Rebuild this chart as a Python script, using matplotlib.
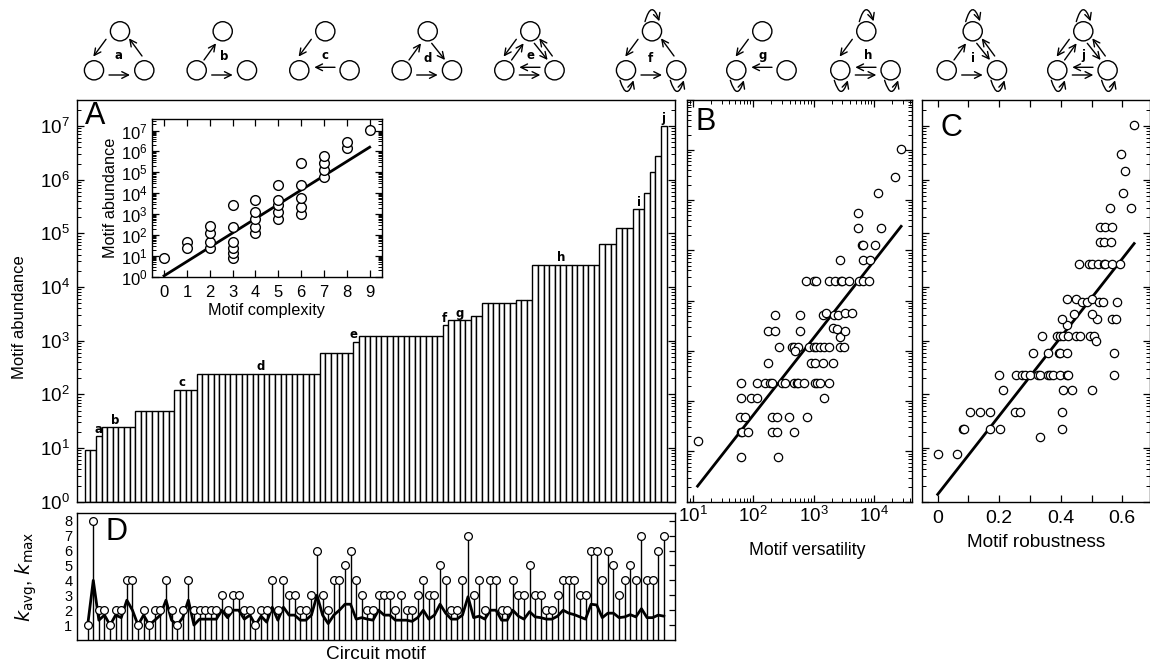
import numpy as np
from matplotlib import pyplot as plt
from matplotlib.patches import Circle, FancyArrowPatch
from matplotlib.ticker import FixedLocator, LogLocator, NullFormatter

plt.rcParams["font.family"] = ["Liberation Sans", "DejaVu Sans"]
plt.rcParams["mathtext.default"] = "regular"
plt.rcParams["axes.linewidth"] = 1.0

W, H = 1150, 665

# -- panel A: sorted abundance, as runs of equal height --
abundance_levels = [8, 16, 24, 48, 120, 240, 600, 960, 1200, 1920, 2400, 2880, 5040, 5760,
                    25920, 63000, 126000, 280000, 560000, 1.4e6, 2.8e6, 1e7]
motif_counts = [2, 1, 6, 7, 4, 22, 6, 1, 15, 1, 4, 2, 6, 3, 12, 3, 3, 2, 1, 1, 1, 1]
marked_names = list("abcdefghij")
marked_motifs = [2.5, 5.4, 17.3, 31.4, 48.0, 64.3, 67.0, 85.2, 99.0, 103.4]
marked_levels = [16, 24, 120, 240, 960, 1920, 2400, 25920, 280000, 1e7]

# -- inset: complexity vs abundance --
complexity = [0, 1, 1, 2, 2, 2, 2, 3, 3, 3, 3, 3, 3, 4, 4, 4, 4, 4,
              5, 5, 5, 5, 5, 6, 6, 6, 6, 6, 7, 7, 7, 7, 8, 8, 9]
complexity_abundance = [8, 48, 24, 24, 48, 120, 260, 8, 14, 24, 48, 250, 2700,
                        120, 250, 580, 1200, 4700, 580, 1200, 2700, 4700, 26000,
                        1000, 2300, 5600, 26000, 290000, 63000, 126000, 280000, 600000,
                        1.4e6, 2.8e6, 1.1e7]
complexity_fit_x = [0, 9]
complexity_fit_y = [1.1, 1.6e6]

# -- panel B: log10 versatility, log10 abundance --
b_log_versatility = [1.08, 1.80, 2.41, 1.80, 1.82, 1.91, 2.31, 2.40, 2.67,
                     1.79, 1.86, 2.31, 2.40, 2.60, 2.89,
                     1.80, 1.96, 2.07, 3.17,
                     1.80, 2.07, 2.20, 2.28, 2.31, 2.47, 2.53, 2.67, 2.72, 2.75, 2.85,
                     3.02, 3.05, 3.11, 3.26,
                     2.25, 2.95, 3.02, 3.15, 3.32,
                     2.43, 2.64, 2.68, 2.75, 2.69, 2.92, 3.01, 3.04, 3.11, 3.18, 3.26, 3.43, 3.51,
                     3.43, 2.25, 2.36, 2.77, 3.33, 3.39, 3.52,
                     2.36, 2.77, 3.15, 3.21, 3.34, 3.40, 3.52, 3.63,
                     2.87, 3.01, 3.04, 3.26, 3.36, 3.45, 3.47, 3.59, 3.75, 3.82, 3.91,
                     3.44, 3.82, 3.93, 3.80, 3.82, 4.01, 3.74, 4.11, 3.74, 4.07, 4.35, 4.45]
b_log_abundance = [1.20, 0.89, 0.89, 1.38, 1.38, 1.38, 1.38, 1.38, 1.38,
                   1.68, 1.68, 1.68, 1.68, 1.68, 1.68,
                   2.06, 2.06, 2.06, 2.06,
                   2.36, 2.36, 2.36, 2.36, 2.36, 2.36, 2.36, 2.36, 2.36, 2.36, 2.36,
                   2.36, 2.36, 2.36, 2.36,
                   2.77, 2.77, 2.77, 2.77, 2.77,
                   3.08, 3.08, 3.08, 3.08, 3.00, 3.08, 3.08, 3.08, 3.08, 3.08, 3.08, 3.08, 3.08,
                   3.28, 3.40, 3.40, 3.40, 3.46, 3.44, 3.40,
                   3.72, 3.72, 3.72, 3.76, 3.72, 3.72, 3.76, 3.76,
                   4.40, 4.40, 4.40, 4.40, 4.40, 4.40, 4.40, 4.40, 4.40, 4.40, 4.40,
                   4.81, 4.81, 4.81, 5.11, 5.11, 5.11, 5.44, 5.44, 5.75, 6.15, 6.46, 7.01]
b_fit_x = [1.08, 4.45]
b_fit_y = [0.31, 5.48]

# -- panel C: robustness, log10 abundance --
c_robustness = [0, .062, .334, .083, .087, .171, .203, .403,
                .104, .137, .171, .252, .269, .403,
                .211, .406, .436, .502,
                .199, .253, .273, .284, .300, .327, .333, .359, .365, .376, .397, .419, .424, .573,
                .311, .357, .395, .399, .420, .573,
                .340, .389, .399, .406, .424, .449, .464, .495, .508, .514,
                .419, .403, .518, .567, .580, .444, .502,
                .419, .449, .470, .485, .502, .523, .536, .584,
                .460, .492, .500, .522, .539, .545, .565, .594,
                .529, .539, .564, .527, .545, .568, .561, .627, .602, .609, .597, .639]
c_log_abundance = [.89, .89, 1.20, 1.36, 1.36, 1.36, 1.36, 1.36,
                   1.67, 1.67, 1.67, 1.67, 1.67, 1.67,
                   2.08, 2.08, 2.08, 2.08,
                   2.36, 2.36, 2.36, 2.36, 2.36, 2.36, 2.36, 2.36, 2.36, 2.36, 2.36, 2.36, 2.36, 2.36,
                   2.77, 2.77, 2.77, 2.77, 2.77, 2.77,
                   3.08, 3.08, 3.08, 3.08, 3.08, 3.08, 3.08, 3.08, 3.08, 3.00,
                   3.30, 3.41, 3.41, 3.41, 3.41, 3.49, 3.49,
                   3.77, 3.77, 3.73, 3.73, 3.77, 3.73, 3.73, 3.73,
                   4.42, 4.42, 4.42, 4.42, 4.42, 4.42, 4.42, 4.42,
                   4.83, 4.83, 4.83, 5.11, 5.11, 5.11, 5.47, 5.47, 5.75, 6.16, 6.47, 7.01]
c_fit_x = [0, 0.6385]
c_fit_y = [0.137, 4.81]

# -- panel D: node degree per motif --
k_max = [1, 8, 2, 2, 1, 2, 2, 4, 4, 1, 2, 1, 2, 2, 4, 2, 1, 2, 4, 2, 2, 2, 2, 2, 3, 2,
         3, 3, 2, 2, 1, 2, 2, 4, 2, 4, 3, 3, 2, 2, 3, 6, 3, 2, 4, 4, 5, 6, 4, 3, 2, 2,
         3, 3, 3, 2, 3, 2, 2, 3, 4, 3, 3, 5, 4, 2, 2, 4, 7, 3, 4, 2, 4, 4, 2, 2, 4, 3,
         3, 5, 3, 3, 2, 2, 3, 4, 4, 4, 3, 3, 6, 6, 4, 6, 5, 3, 4, 5, 4, 7, 4, 4, 6, 7]
k_avg = [1, 4, 1.33, 1.67, 1, 1.67, 1.5, 2.67, 2, 1, 1.67, 1, 1.33, 1.67, 2.67, 1.33, 1, 1.5,
         2.67, 1, 1.4, 1.4, 1.4, 1.4, 2, 1.5, 2, 2, 1.4, 1.67, 1, 1.6, 1.2, 2.2, 1.33, 2.2,
         1.67, 1.67, 1.33, 1.33, 1.67, 3, 1.67, 1.1, 1.67, 2, 2.4, 2.4, 1.4, 1.5, 1.4, 1.33,
         2, 1.67, 1.67, 1.33, 1.33, 1.33, 1.25, 1.5, 2, 1.4, 1.67, 2.4, 1.8, 1.4, 1.4, 1.67,
         2.9, 1.5, 1.6, 1.4, 2, 2, 1.33, 1.33, 2, 1.6, 1.4, 1.9, 1.55, 1.5, 1.4, 1.4, 1.6,
         2, 1.8, 1.7, 1.55, 1.4, 2.4, 2.35, 1.5, 1.8, 1.8, 1.5, 1.55, 1.7, 1.55, 2.1, 1.5,
         1.5, 1.67, 1.6]

# -- motif sketches along the top --
sketch_names = list("abcdefghij")
sketch_edges = ["TL LR RT", "LT LR", "TL RL", "LT TR LR", "TL LT TR RT LR RL",
                "TL RT LR", "TL RL", "TL LR RL", "LT TR RT LR", "TL LT TR RT LR RL"]
sketch_loops = ["", "", "", "", "", "TLR", "L", "TLR", "TR", "TLR"]


def rect(left, top, right, bottom):
    return [left / W, 1 - bottom / H, (right - left) / W, (bottom - top) / H]


def log_ticks(ax, which="y"):
    axis = ax.yaxis if which == "y" else ax.xaxis
    axis.set_major_locator(LogLocator(base=10, numticks=12))
    axis.set_minor_locator(LogLocator(base=10, subs=np.arange(2, 10), numticks=12))
    axis.set_minor_formatter(NullFormatter())


def ticks_in(ax, **kw):
    ax.tick_params(which="major", direction="in", length=5, width=0.9, labelsize=13.5, **kw)
    ax.tick_params(which="minor", direction="in", length=3, width=0.7, **kw)


def draw_sketch(ax, x0, name, edges, loops, label_dx, label_dy):
    y0 = 31.3
    nodes = {"T": (x0, y0), "L": (x0 - 26, y0 + 39), "R": (x0 + 24.3, y0 + 39)}
    for xy in nodes.values():
        ax.add_patch(Circle(xy, 9.6, fc="white", ec="black", lw=1.0))
    # arrow ends relative to the top node, in px
    arrows = {"TL": (-14, 8, -26.7, 25.3), "LT": (-18.7, 28.7, -6.7, 12),
              "TR": (4, 12, 17.3, 28.7), "RT": (22, 24.7, 9, 7),
              "LR": (-11, 43.7, 10, 43.7), "RL": (9.7, 36, -11, 36)}
    for key in edges.split():
        sx, sy, ex, ey = arrows[key]
        ax.add_patch(FancyArrowPatch((x0 + sx, y0 + sy), (x0 + ex, y0 + ey),
                                     arrowstyle="->,head_length=0.6,head_width=0.3",
                                     mutation_scale=8, lw=1.0, color="black",
                                     shrinkA=0, shrinkB=0))
    for key in loops:
        nx, ny = nodes[key]
        if key == "T":
            start, end, rad = (nx - 7, ny - 9.7), (nx + 7.3, ny - 10), -1.6
        else:
            start, end, rad = (nx - 6, ny + 10), (nx + 7.5, ny + 10), 1.6
        ax.add_patch(FancyArrowPatch(start, end, connectionstyle=f"arc3,rad={rad}",
                                     arrowstyle="->,head_length=0.6,head_width=0.3",
                                     mutation_scale=8, lw=1.0, color="black",
                                     shrinkA=0, shrinkB=0))
    ax.text(x0 + label_dx, y0 + label_dy, name, ha="center", va="center", fontsize=8.5,
            fontweight="bold", family="DejaVu Sans")


fig = plt.figure(figsize=(W / 100, H / 100), dpi=100)

# sketches, in pixel coordinates of the figure
ax_top = fig.add_axes([0, 0, 1, 1])
ax_top.set_xlim(0, W)
ax_top.set_ylim(H, 0)
ax_top.axis("off")
sketch_x = [120, 222.7, 325.3, 427.7, 530.3, 652, 762.3, 866.3, 972.7, 1083.3]
label_dx = [-1.3, 1.3, -0.7, 0, 0, -1.3, 0.3, 1.7, 0, 0]
label_dy = [24, 25, 24, 27, 24, 27, 24, 24, 27, 24]
for x0, name, edges, loops, dx, dy in zip(sketch_x, sketch_names, sketch_edges, sketch_loops,
                                          label_dx, label_dy):
    draw_sketch(ax_top, x0, name, edges, loops, dx, dy)

# Panel A
ax_a = fig.add_axes(rect(76.5, 99.7, 675, 501.7))
heights = np.repeat(abundance_levels, motif_counts)
ax_a.bar(np.arange(len(heights)), heights, width=1, align="edge", bottom=1,
         fc="white", ec="black", lw=1.0)
ax_a.set_yscale("log")
ax_a.set_xlim(-1.5, 105.5)
ax_a.set_ylim(1, 10 ** 7.49)
log_ticks(ax_a)
ticks_in(ax_a, left=True, right=True)
ax_a.tick_params(axis="x", which="both", bottom=False, labelbottom=False)
ax_a.tick_params(axis="y", which="major", pad=5)
ax_a.set_ylabel("Motif abundance", fontsize=12)
ax_a.yaxis.set_label_coords(-0.083, 0.46)
for name, x, level in zip(marked_names, marked_motifs, marked_levels):
    ax_a.annotate(name, (x, level), xytext=(0, 0.5), textcoords="offset points",
                  ha="center", va="bottom", fontsize=8.5, fontweight="bold",
                  family="DejaVu Sans")
ax_a.text(85, 116, "A", transform=ax_top.transData, fontsize=22, ha="left", va="center")

# Inset of A
ax_in = fig.add_axes(rect(151.7, 119.3, 382, 276.7))
ax_in.plot(complexity_fit_x, complexity_fit_y, color="black", lw=2)
ax_in.plot(complexity, complexity_abundance, "o", ms=7, mfc="white", mec="black", mew=1.0, ls="none")
ax_in.set_yscale("log")
ax_in.set_xlim(-0.54, 9.54)
ax_in.set_ylim(1, 10 ** 7.54)
ax_in.set_xticks(range(10))
log_ticks(ax_in)
ticks_in(ax_in, left=True, right=True, top=True, bottom=True)
ax_in.tick_params(axis="both", which="major", labelsize=12)
ax_in.tick_params(axis="x", which="major", pad=6)
ax_in.tick_params(axis="y", which="major", pad=3)
ax_in.set_xlabel("Motif complexity", fontsize=11.7, labelpad=2)
ax_in.set_ylabel("Motif abundance", fontsize=11.7, labelpad=2)
ax_in.yaxis.set_label_coords((118 - 151.7) / 230.3, 0.5)

# Panel B
ax_b = fig.add_axes(rect(686.7, 99.7, 912, 501.7))
ax_b.plot(10.0 ** np.array(b_fit_x), 10.0 ** np.array(b_fit_y), color="black", lw=2)
ax_b.plot(10.0 ** np.array(b_log_versatility), 10.0 ** np.array(b_log_abundance), "o",
          ms=6, mfc="white", mec="black", mew=0.9, ls="none")
ax_b.set_xscale("log")
ax_b.set_yscale("log")
ax_b.set_xlim(10 ** 0.9, 10 ** 4.63)
ax_b.set_ylim(1, 1e8)
log_ticks(ax_b, "x")
log_ticks(ax_b, "y")
ticks_in(ax_b, left=True, right=True, top=True, bottom=True)
ax_b.tick_params(axis="y", which="both", labelleft=False)
ax_b.tick_params(axis="x", which="major", pad=3)
ax_b.set_xlabel("Motif versatility", fontsize=12.7)
ax_b.xaxis.set_label_coords(0.533, -0.1)
ax_b.text(696, 122, "B", transform=ax_top.transData, fontsize=22, ha="left", va="center")

# Panel C
ax_c = fig.add_axes(rect(922, 99.7, 1150, 501.7))
ax_c.plot(c_fit_x, 10.0 ** np.array(c_fit_y), color="black", lw=2)
ax_c.plot(c_robustness, 10.0 ** np.array(c_log_abundance), "o",
          ms=6, mfc="white", mec="black", mew=0.9, ls="none")
ax_c.set_yscale("log")
ax_c.set_xlim(-0.051, 0.69)
ax_c.set_ylim(1, 10 ** 7.49)
ax_c.xaxis.set_major_locator(FixedLocator([0, 0.1, 0.2, 0.3, 0.4, 0.5, 0.6]))
ax_c.set_xticklabels(["0", "", "0.2", "", "0.4", "", "0.6"])
log_ticks(ax_c)
ticks_in(ax_c, left=True, right=True, top=True, bottom=True)
ax_c.tick_params(axis="y", which="both", labelleft=False)
ax_c.tick_params(axis="x", which="major", pad=6, labelsize=14)
ax_c.set_xlabel("Motif robustness", fontsize=13.7)
ax_c.xaxis.set_label_coords(0.5, -0.08)
ax_c.text(941, 128, "C", transform=ax_top.transData, fontsize=22, ha="left", va="center")

# Panel D
ax_d = fig.add_axes(rect(76.5, 513.3, 675, 640))
positions = np.arange(len(k_max)) + 0.5
ax_d.vlines(positions, 0, k_max, color="black", lw=1.0)
ax_d.plot(positions, k_avg, color="black", lw=2)
ax_d.plot(positions, k_max, "o", ms=5.6, mfc="white", mec="black", mew=0.9, ls="none")
ax_d.set_xlim(-1.5, 105.5)
ax_d.set_ylim(0, 8.5)
ax_d.set_yticks(range(1, 9))
ax_d.tick_params(axis="x", bottom=False, labelbottom=False)
ax_d.tick_params(axis="y", direction="in", left=False, right=True, length=4, width=0.9,
                 labelsize=10.5, pad=3)
ax_d.set_xlabel("Circuit motif", fontsize=13.7, labelpad=4)
ax_d.set_ylabel(r"$\mathit{k}_{\mathrm{avg}}$, $\mathit{k}_{\mathrm{max}}$", fontsize=14)
ax_d.yaxis.set_label_coords(-0.062, 0.5)
ax_d.text(105, 532, "D", transform=ax_top.transData, fontsize=22, ha="left", va="center")

fig.savefig("out.png", dpi=100)
